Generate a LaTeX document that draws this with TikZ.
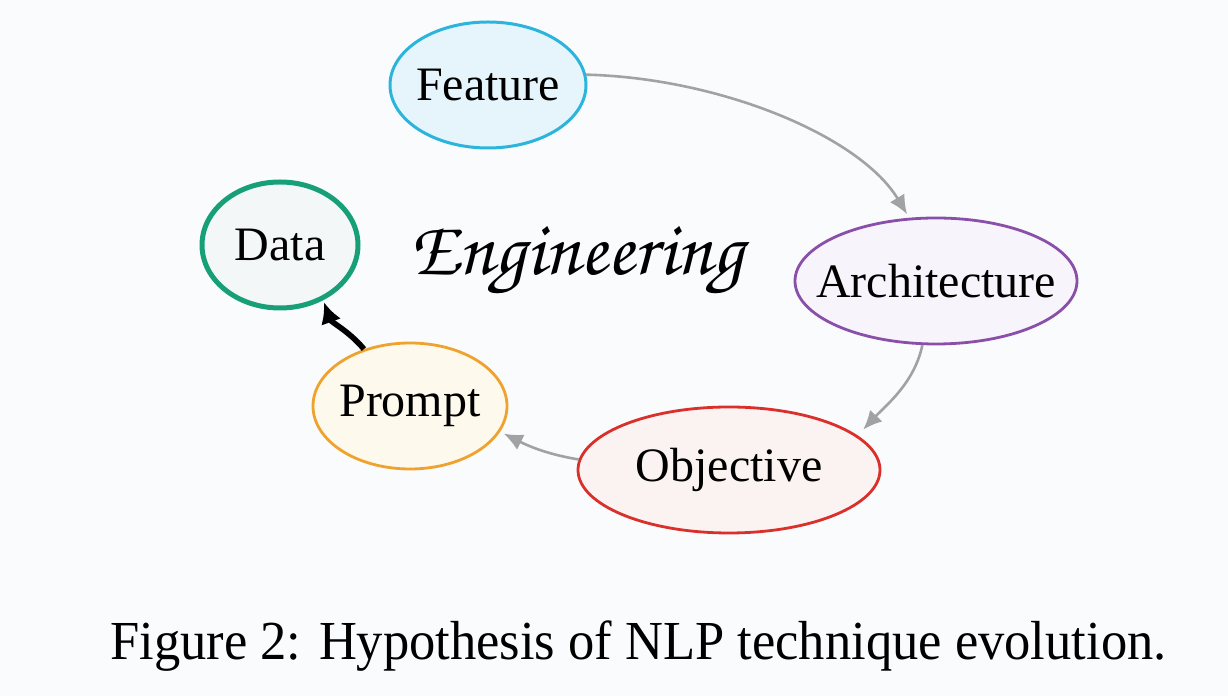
\documentclass[tikz,border=0pt]{standalone}
\usepackage[T1]{fontenc}
\usepackage{fontspec}
\setmainfont{Liberation Serif}
\newfontfamily\capfont{Liberation Serif}[FakeStretch=0.955]
\usetikzlibrary{shapes.geometric,arrows.meta}
\newcommand\chancfont{\fontencoding{T1}\fontfamily{pzc}\fontseries{mb}\fontshape{it}\selectfont}
\newcommand\ctr[1]{\makebox[0pt][c]{#1}}
\definecolor{bgcol}{HTML}{FAFBFC}
\definecolor{featB}{HTML}{2BB5DC}\definecolor{featF}{HTML}{E6F5FB}
\definecolor{dataB}{HTML}{17A078}\definecolor{dataF}{HTML}{F3F7F7}
\definecolor{archB}{HTML}{8A4FA8}\definecolor{archF}{HTML}{F7F5FB}
\definecolor{promB}{HTML}{F0A22E}\definecolor{promF}{HTML}{FDF9EC}
\definecolor{objB}{HTML}{D9302C}\definecolor{objF}{HTML}{FBF3F1}
\definecolor{arrG}{HTML}{A2A2A4}
\tikzset{
  bubble/.style={ellipse, inner sep=0pt, line width=1.4pt, font=\fontsize{24}{28}\selectfont, text=black},
  garrow/.style={draw=arrG, line width=1.3pt, -{Latex[length=9.5pt,width=8.5pt]}, shorten >=2pt},
  barrow/.style={draw=black, line width=2.8pt, -{Latex[length=10.5pt,width=10.5pt]}, shorten >=1pt},
}
\begin{document}
\begin{tikzpicture}[x=0.5pt,y=0.5pt]
\useasboundingbox (0,0) rectangle (1228,696);
\fill[bgcol] (0,0) rectangle (1228,696);
\node[bubble, draw=featB, fill=featF, line width=1.5pt, minimum width=98pt, minimum height=63pt] (feature) at (488,611) {\ctr{Feature}};
\node[bubble, draw=dataB, fill=dataF, line width=2.5pt, minimum width=78pt, minimum height=63pt] (data) at (280,451) {\ctr{Data}};
\node[bubble, draw=archB, fill=archF, minimum width=141pt, minimum height=63pt] (arch) at (936,415) {\ctr{Architecture}};
\node[bubble, draw=promB, fill=promF, minimum width=97pt, minimum height=63pt] (prompt) at (410,290) {\ctr{Prompt}};
\node[bubble, draw=objB, fill=objF, minimum width=151pt, minimum height=63pt] (obj) at (729,226) {\ctr{Objective}};
\node[font=\chancfont\fontsize{39}{44}\selectfont, anchor=base] (eng) at (577,421) {Engineering};
\node[font=\capfont\fontsize{27.5}{33}\selectfont, anchor=base west, inner sep=0pt] (cap) at (110,36) {Figure 2: Hypothesis of NLP technique evolution.};
\draw[garrow] (feature.6) .. controls (720,618) and (860,560) .. (arch.113);
\draw[garrow, shorten >=4pt] (arch.258) .. controls +(-8,-38) and +(28,30) .. (obj.15);
\draw[garrow] (obj.176) .. controls +(-30,5) and +(30,-15) .. (prompt.-16);
\draw[barrow] (prompt.129) .. controls +(-15,18) and +(8,-22) .. (data.-52);
\end{tikzpicture}
\end{document}
